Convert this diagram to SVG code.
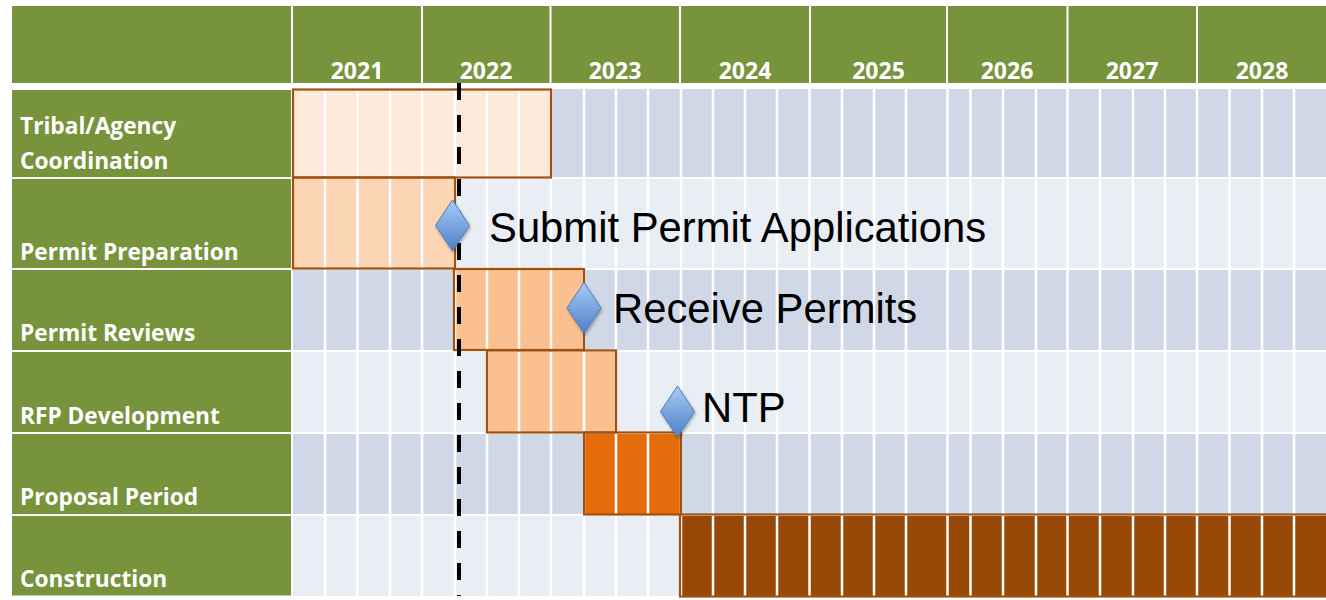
<svg xmlns="http://www.w3.org/2000/svg" width="1326" height="600" viewBox="0 0 1326 600">
<defs>
<style>
.hdr{fill:#77933C}
.lbl{fill:#77933C}
.yr{font-family:"Open Sans","Liberation Sans",sans-serif;font-weight:bold;font-size:23px;fill:#fff;text-anchor:middle}
.task{font-family:"Open Sans","Liberation Sans",sans-serif;font-weight:bold;font-size:22.7px;fill:#fff}
.dark{fill:#D0D8E8}
.light{fill:#E9EDF4}
.bar{stroke:none}
.edge{fill:none;stroke:#A0500F;stroke-width:2.2}
.ms{font-family:"Liberation Sans",Arial,sans-serif;font-size:41.8px;fill:#000}
.dia{fill:url(#dg);stroke:#4A7EBB;stroke-width:1}
</style>
<linearGradient id="dg" x1="0" y1="0" x2="0" y2="1">
<stop offset="0" stop-color="#A9CBF6"/>
<stop offset="1" stop-color="#4C80C6"/>
</linearGradient>
<filter id="sh" x="-30%" y="-30%" width="160%" height="160%">
<feDropShadow dx="1" dy="2" stdDeviation="1.5" flood-color="#000" flood-opacity="0.3"/>
</filter>
</defs>
<rect width="1326" height="600" fill="#fff"/>
<g id="header">
<rect class="hdr" x="12" y="6" width="279" height="77"/>
<rect class="hdr" x="293" y="6" width="1033" height="77"/>
<path d="M422 6V83M550.5 6V83M680 6V83M810 6V83M947 6V83M1067.5 6V83M1197 6V83" stroke="#fff" stroke-width="2"/>
<text class="yr" x="357" y="78.5">2021</text>
<text class="yr" x="486" y="78.5">2022</text>
<text class="yr" x="615" y="78.5">2023</text>
<text class="yr" x="745" y="78.5">2024</text>
<text class="yr" x="878.5" y="78.5">2025</text>
<text class="yr" x="1007" y="78.5">2026</text>
<text class="yr" x="1132" y="78.5">2027</text>
<text class="yr" x="1262" y="78.5">2028</text>
</g>
<g id="grid">
<rect class="dark" x="293" y="89" width="1033" height="89"/>
<rect class="light" x="293" y="178" width="1033" height="91"/>
<rect class="dark" x="293" y="269" width="1033" height="82"/>
<rect class="light" x="293" y="351" width="1033" height="82"/>
<rect class="dark" x="293" y="433" width="1033" height="82"/>
<rect class="light" x="293" y="515" width="1033" height="81"/>
</g>
<g id="bar-fills">
<rect class="bar" x="293" y="89.5" width="258" height="88" fill="#FDEADA"/>
<rect class="bar" x="293" y="177.5" width="162" height="91" fill="#FCD5B4"/>
<rect class="bar" x="454" y="269" width="130" height="81" fill="#FAC08F"/>
<rect class="bar" x="487" y="350.5" width="129" height="82" fill="#FAC08F"/>
<rect class="bar" x="584" y="432.5" width="97" height="82" fill="#E46C0A"/>
<rect class="bar" x="680" y="514.5" width="647" height="82" fill="#984807"/>
</g>
<g id="gridlines" stroke="#fff" fill="none">
<path stroke-width="2.5" d="M325 89V596M357.5 89V596M390 89V596M422 89V596M455 89V596M487 89V596M519 89V596M551 89V596M584 89V596M616 89V596M648 89V596M681 89V596M713 89V596M745 89V596M777 89V596M809.5 89V596M842 89V596M874 89V596M906 89V596M947.5 89V596M970.5 89V596M1003 89V596M1036 89V596M1067.5 89V596M1100 89V596M1133 89V596M1165 89V596M1197 89V596M1229.5 89V596M1262 89V596M1294 89V596"/>
<path stroke-width="2" d="M293 178H1326M293 269H1326M293 351H1326M293 433H1326M293 515H1326"/>
</g>
<g id="row-tribal">
<rect class="lbl" x="12" y="90" width="279" height="87"/>
<text class="task" x="20" y="134">Tribal/Agency</text>
<text class="task" x="20" y="168.5">Coordination</text>
<rect class="edge" x="293" y="89.5" width="258" height="88"/>
</g>
<g id="row-permit-prep">
<rect class="lbl" x="12" y="179" width="279" height="89"/>
<text class="task" x="20" y="260">Permit Preparation</text>
<rect class="edge" x="293" y="177.5" width="162" height="91"/>
</g>
<g id="row-permit-reviews">
<rect class="lbl" x="12" y="270" width="279" height="80"/>
<text class="task" x="20" y="341">Permit Reviews</text>
<rect class="edge" x="454" y="269" width="130" height="81"/>
</g>
<g id="row-rfp">
<rect class="lbl" x="12" y="352" width="279" height="80"/>
<text class="task" x="20" y="423.5">RFP Development</text>
<rect class="edge" x="487" y="350.5" width="129" height="82"/>
</g>
<g id="row-proposal">
<rect class="lbl" x="12" y="434" width="279" height="80"/>
<text class="task" x="20" y="505">Proposal Period</text>
<rect class="edge" x="584" y="432.5" width="97" height="82"/>
</g>
<g id="row-construction">
<rect class="lbl" x="12" y="516" width="279" height="79.5"/>
<text class="task" x="20" y="586.5">Construction</text>
<rect class="edge" x="680" y="514.5" width="647" height="82"/>
</g>
<g id="connectors">
<line x1="459" y1="83" x2="459" y2="596" stroke="#000" stroke-width="4" stroke-dasharray="17 15"/>
</g>
<g id="ms-submit">
<path class="dia" filter="url(#sh)" d="M452.5 200L469.5 225.5L452.5 251L435.5 225.5Z"/>
<text class="ms" x="489" y="242">Submit Permit Applications</text>
</g>
<g id="ms-receive">
<path class="dia" filter="url(#sh)" d="M584 282.5L601 308L584 333.5L567 308Z"/>
<text class="ms" x="613" y="323">Receive Permits</text>
</g>
<g id="ms-ntp">
<path class="dia" filter="url(#sh)" d="M677.5 386L694.5 411.5L677.5 437L660.5 411.5Z"/>
<text class="ms" x="702" y="422">NTP</text>
</g>
</svg>
